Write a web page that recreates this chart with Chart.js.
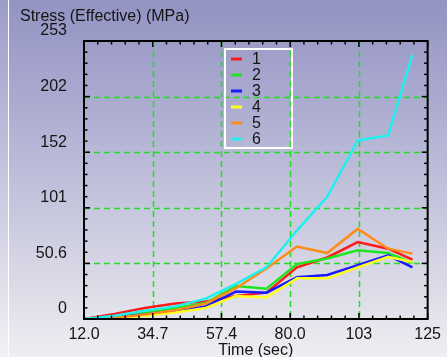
<!DOCTYPE html>
<html>
<head>
<meta charset="utf-8">
<title>Stress (Effective)</title>
<script src="https://cdn.jsdelivr.net/npm/chart.js@4.4.1/dist/chart.umd.min.js"></script>
<style>
  html, body { margin: 0; padding: 0; width: 447px; height: 357px; overflow: hidden; }
  body {
    position: relative;
    background: linear-gradient(to bottom, #9393c3 0%, #a8a8cf 25%, #c3c3dc 55%, #e0e0ea 85%, #eeeef3 100%);
  }
  #strip {
    position: absolute; left: 0; top: 0; width: 8px; height: 357px;
    background: linear-gradient(to bottom, #9d9dca 0%, #c6c6df 50%, #f1f1f5 100%);
    border-right: 1px solid #ffffff;
  }
  #chart { position: absolute; left: 0; top: 0; }
</style>
</head>
<body>
<div id="strip"></div>
<canvas id="chart" width="447" height="357"></canvas>
<script>
// Time samples (sec)
const times = [12, 22, 32, 42, 52, 62, 72, 82, 92, 102, 112, 120];

// Effective stress (MPa) for each probe
const stress1 = [0, 4.5, 10, 14, 16, 21, 24, 47, 56, 70, 64, 54];
const stress2 = [0, 2, 5.5, 10, 14.5, 30, 27.5, 50, 55, 62.5, 60, 51];
const stress3 = [0, 1.5, 4, 7.5, 11.5, 25, 24, 38, 40, 49, 58, 47];
const stress4 = [0, 1, 3, 6, 10, 21, 19.5, 37, 37, 47, 56.5, 52];
const stress5 = [0, 1, 4, 8, 14, 28, 46, 66, 60, 82, 64, 59.5];
const stress6 = [0, 3, 7.5, 11.5, 18.5, 32, 47, 80.5, 111.5, 162.5, 167, 240.5];

const seriesNames = ['1', '2', '3', '4', '5', '6'];
const seriesValues = [stress1, stress2, stress3, stress4, stress5, stress6];
const seriesColors = ['#ff1a1a', '#1ee61e', '#1a1aff', '#ffff1a', '#ff8c1a', '#1ef0f0'];

// Axis ticks and their printed labels
const xTickValues = [12, 34.6, 57.2, 79.8, 102.4, 125];
const xTickLabels = ['12.0', '34.7', '57.4', '80.0', '103', '125'];
const yTickValues = [0, 50.6, 101.2, 151.8, 202.4, 253];
const yTickLabels = ['0', '50.6', '101', '152', '202', '253'];

const FONT = 'Liberation Sans, Arial, Helvetica, sans-serif';
const INK = '#141414';

const datasets = seriesValues.map((vals, i) => ({
  label: seriesNames[i],
  data: vals.map((v, k) => ({ x: times[k], y: v })),
  borderColor: seriesColors[i],
  backgroundColor: seriesColors[i],
  borderWidth: 2.5,
  pointRadius: 0,
  tension: 0,
  fill: false,
  order: seriesValues.length - 1 - i
}));

function line(ctx, x1, y1, x2, y2) {
  ctx.beginPath(); ctx.moveTo(x1, y1); ctx.lineTo(x2, y2); ctx.stroke();
}

// Dashed grid, boxed frame with inward ticks, and the boxed legend
const framePlugin = {
  id: 'frame',
  beforeDatasetsDraw(chart) {
    const { ctx, chartArea: a, scales: { x, y } } = chart;
    ctx.save();
    ctx.strokeStyle = '#22dd22';
    ctx.lineWidth = 1.5;
    ctx.setLineDash([6, 4]);
    x.ticks.slice(1, -1).forEach(t => {
      const px = Math.round(x.getPixelForValue(t.value)) + 0.5;
      line(ctx, px, a.top, px, a.bottom);
    });
    y.ticks.slice(1, -1).forEach(t => {
      const py = Math.round(y.getPixelForValue(t.value)) + 0.5;
      line(ctx, a.left, py, a.right, py);
    });
    ctx.restore();
  },
  afterDraw(chart, args, opts) {
    const { ctx, chartArea: a, scales: { x, y } } = chart;
    ctx.save();
    ctx.strokeStyle = '#000';
    ctx.lineWidth = 2;
    ctx.setLineDash([]);
    ctx.strokeRect(a.left, a.top, a.right - a.left, a.bottom - a.top);

    const major = 6, minor = 3.5;
    ctx.lineWidth = 1.5;
    const xs = x.ticks.map(t => t.value);
    for (let i = 0; i < xs.length; i++) {
      const px = x.getPixelForValue(xs[i]);
      line(ctx, px, a.bottom, px, a.bottom - major);
      line(ctx, px, a.top, px, a.top + major);
      if (i < xs.length - 1) {
        for (let m = 1; m < 5; m++) {
          const mx = x.getPixelForValue(xs[i] + (xs[i + 1] - xs[i]) * m / 5);
          line(ctx, mx, a.bottom, mx, a.bottom - minor);
          line(ctx, mx, a.top, mx, a.top + minor);
        }
      }
    }
    const ys = y.ticks.map(t => t.value);
    for (let i = 0; i < ys.length; i++) {
      const py = y.getPixelForValue(ys[i]);
      line(ctx, a.left, py, a.left + major, py);
      line(ctx, a.right, py, a.right - major, py);
      if (i < ys.length - 1) {
        for (let m = 1; m < 5; m++) {
          const my = y.getPixelForValue(ys[i] + (ys[i + 1] - ys[i]) * m / 5);
          line(ctx, a.left, my, a.left + minor, my);
          line(ctx, a.right, my, a.right - minor, my);
        }
      }
    }

    // legend
    const L = opts.legend;
    ctx.strokeStyle = '#ffffff';
    ctx.lineWidth = 2;
    ctx.strokeRect(L.left, L.top, L.width, L.height);
    ctx.font = '16px ' + FONT;
    ctx.fillStyle = INK;
    ctx.textBaseline = 'middle';
    ctx.textAlign = 'left';
    chart.data.datasets.forEach((ds, i) => {
      const cy = L.firstRow + i * L.rowGap;
      ctx.strokeStyle = ds.borderColor;
      ctx.lineWidth = 3;
      line(ctx, L.left + 6, cy, L.left + 17, cy);
      ctx.fillText(ds.label, L.left + 27, cy + 1);
    });
    ctx.restore();
  }
};

new Chart(document.getElementById('chart'), {
  type: 'line',
  data: { datasets },
  plugins: [framePlugin],
  options: {
    responsive: false,
    animation: false,
    devicePixelRatio: 1,
    layout: { padding: { left: 20, right: 14.5, top: 0, bottom: 0 } },
    plugins: {
      legend: { display: false },
      tooltip: { enabled: false },
      title: {
        display: true,
        text: 'Stress (Effective) (MPa)',
        align: 'start',
        color: INK,
        font: { family: FONT, size: 16, weight: 'normal' },
        padding: { top: 7, bottom: 14.8 }
      },
      frame: {
        legend: { left: 225, top: 49, width: 67, height: 99, firstRow: 59, rowGap: 16 }
      }
    },
    scales: {
      x: {
        type: 'linear',
        min: 12,
        max: 125,
        afterBuildTicks: s => { s.ticks = xTickValues.map(v => ({ value: v })); },
        afterFit: s => { s.height = 38; },
        grid: { display: false, drawTicks: false },
        border: { display: false },
        ticks: {
          color: INK,
          font: { family: FONT, size: 16 },
          padding: 6,
          maxRotation: 0,
          autoSkip: false,
          callback: (v, i) => xTickLabels[i]
        },
        title: {
          display: true,
          text: 'Time (sec)',
          color: INK,
          font: { family: FONT, size: 16, lineHeight: 1 },
          padding: { top: 0, bottom: -2 }
        }
      },
      y: {
        type: 'linear',
        min: 0,
        max: 253,
        afterBuildTicks: s => { s.ticks = yTickValues.map(v => ({ value: v })); },
        afterFit: s => { s.width = 64; },
        grid: { display: false, drawTicks: false },
        border: { display: false },
        ticks: {
          color: INK,
          font: { family: FONT, size: 16 },
          padding: 17,
          labelOffset: -10,
          autoSkip: false,
          callback: (v, i) => yTickLabels[i]
        }
      }
    }
  }
});
</script>
</body>
</html>
